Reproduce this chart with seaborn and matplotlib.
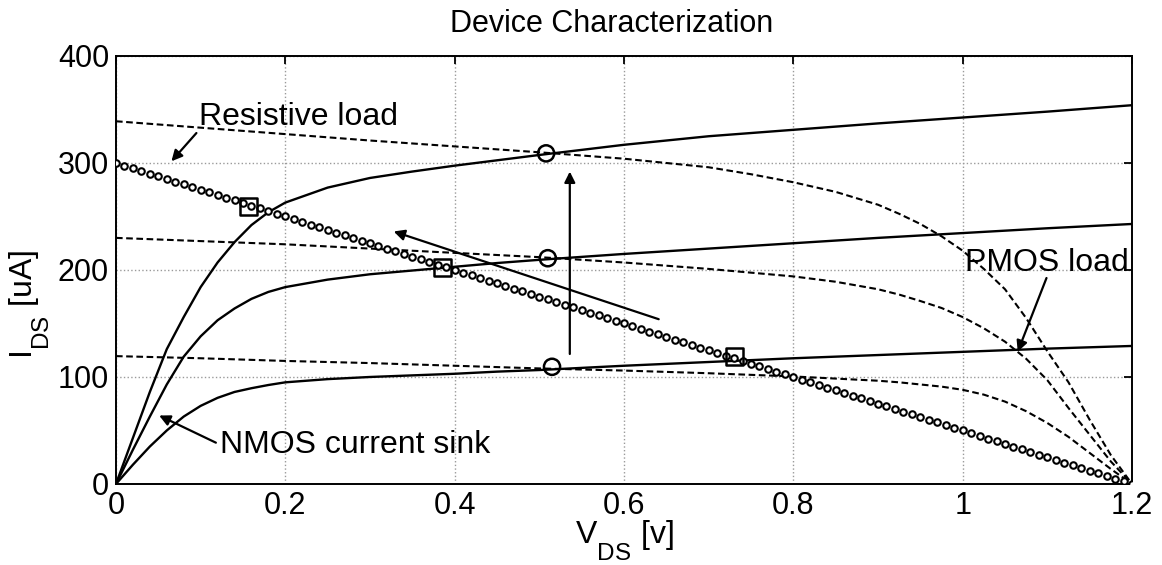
import numpy as np
import matplotlib
matplotlib.use("Agg")
import matplotlib.pyplot as plt
import matplotlib._mathtext as _mt
import seaborn as sns

# ---------------- data ----------------
# NMOS current-sink curves (solid)
vds_nmos = [0.0, 0.02, 0.04, 0.06, 0.08, 0.10, 0.12, 0.14, 0.16, 0.18, 0.20,
            0.25, 0.30, 0.35, 0.40, 0.45, 0.50, 0.60, 0.70, 0.80, 0.90, 1.00, 1.10, 1.20]
ids_nmos_high = [0, 43, 86, 126, 156, 184, 207, 226, 242, 254, 263,
                 277, 286, 292, 297.5, 302.5, 307.5, 317, 325, 331, 337, 342.5, 348, 354]
ids_nmos_mid = [0, 32, 63, 93, 119, 138, 153, 164, 173, 179.5, 184,
                191, 196, 199.5, 203, 206.5, 209.5, 215, 220, 225, 230, 234.5, 239, 243]
ids_nmos_low = [0, 18, 35, 50, 63, 73, 80.5, 86, 89.5, 92.5, 95,
                98, 100, 101.5, 103, 105, 106.5, 110.5, 114, 117.5, 120.5, 123.5, 126.5, 129]

# PMOS load curves (dashed)
vds_pmos = [0.0, 0.1, 0.2, 0.3, 0.4, 0.5, 0.6, 0.7, 0.75, 0.8, 0.85, 0.9, 0.925, 0.95,
            0.975, 1.0, 1.025, 1.05, 1.075, 1.1, 1.125, 1.15, 1.175, 1.2]
ids_pmos_high = [339, 333, 327, 321, 315.5, 310, 304, 296, 289.5, 282, 273, 261, 252.5, 243,
                 231.5, 218, 201, 182, 155, 124, 95, 60, 27, 0]
ids_pmos_mid = [230, 227, 224, 220, 216, 212, 207, 201, 197.5, 194, 189, 182, 177, 171,
                164.5, 156, 145.5, 133, 117, 97, 71, 46, 21, 0]
ids_pmos_low = [119.5, 117.5, 115, 113, 110.5, 108, 106, 103.5, 102, 100.5, 98.5, 96.5, 95, 93,
                91, 88, 83.5, 77, 68, 57, 44, 29, 14, 0]

# Resistive load line (marker chain)
vds_res = [0.00, 0.01, 0.02, 0.03, 0.04, 0.05, 0.06, 0.07, 0.08, 0.09,
           0.10, 0.11, 0.12, 0.13, 0.14, 0.15, 0.16, 0.17, 0.18, 0.19,
           0.20, 0.21, 0.22, 0.23, 0.24, 0.25, 0.26, 0.27, 0.28, 0.29,
           0.30, 0.31, 0.32, 0.33, 0.34, 0.35, 0.36, 0.37, 0.38, 0.39,
           0.40, 0.41, 0.42, 0.43, 0.44, 0.45, 0.46, 0.47, 0.48, 0.49,
           0.50, 0.51, 0.52, 0.53, 0.54, 0.55, 0.56, 0.57, 0.58, 0.59,
           0.60, 0.61, 0.62, 0.63, 0.64, 0.65, 0.66, 0.67, 0.68, 0.69,
           0.70, 0.71, 0.72, 0.73, 0.74, 0.75, 0.76, 0.77, 0.78, 0.79,
           0.80, 0.81, 0.82, 0.83, 0.84, 0.85, 0.86, 0.87, 0.88, 0.89,
           0.90, 0.91, 0.92, 0.93, 0.94, 0.95, 0.96, 0.97, 0.98, 0.99,
           1.00, 1.01, 1.02, 1.03, 1.04, 1.05, 1.06, 1.07, 1.08, 1.09,
           1.10, 1.11, 1.12, 1.13, 1.14, 1.15, 1.16, 1.17, 1.18, 1.19,
           1.20]
ids_res = [300, 297.5, 295, 292.5, 290, 287.5, 285, 282.5, 280, 277.5,
           275, 272.5, 270, 267.5, 265, 262.5, 260, 257.5, 255, 252.5,
           250, 247.5, 245, 242.5, 240, 237.5, 235, 232.5, 230, 227.5,
           225, 222.5, 220, 217.5, 215, 212.5, 210, 207.5, 205, 202.5,
           200, 197.5, 195, 192.5, 190, 187.5, 185, 182.5, 180, 177.5,
           175, 172.5, 170, 167.5, 165, 162.5, 160, 157.5, 155, 152.5,
           150, 147.5, 145, 142.5, 140, 137.5, 135, 132.5, 130, 127.5,
           125, 122.5, 120, 117.5, 115, 112.5, 110, 107.5, 105, 102.5,
           100, 97.5, 95, 92.5, 90, 87.5, 85, 82.5, 80, 77.5,
           75, 72.5, 70, 67.5, 65, 62.5, 60, 57.5, 55, 52.5,
           50, 47.5, 45, 42.5, 40, 37.5, 35, 32.5, 30, 27.5,
           25, 22.5, 20, 17.5, 15, 12.5, 10, 7.5, 5, 2.5,
           0]

# operating points
op_circle_x = [0.508, 0.510, 0.515]
op_circle_y = [309, 211, 109.5]
op_square_x = [0.157, 0.386, 0.731]
op_square_y = [259, 202, 119]

x_ticks = [0, 0.2, 0.4, 0.6, 0.8, 1.0, 1.2]
x_tick_labels = ["0", "0.2", "0.4", "0.6", "0.8", "1", "1.2"]
y_ticks = [0, 100, 200, 300, 400]
y_tick_labels = ["0", "100", "200", "300", "400"]

title_text = "Device Characterization"
xlabel_text = r"$\mathregular{V_{DS}}$ [v]"
ylabel_text = r"$\mathregular{I_{DS}}$ [uA]"

# ---------------- style ----------------
sns.set_style("white")
plt.rcParams["font.family"] = ["Liberation Sans", "DejaVu Sans"]
plt.rcParams["mathtext.fontset"] = "custom"
plt.rcParams["mathtext.rm"] = "Liberation Sans"
plt.rcParams["mathtext.it"] = "Liberation Sans:italic"
plt.rcParams["mathtext.bf"] = "Liberation Sans:bold"
plt.rcParams["text.color"] = "black"
plt.rcParams["axes.labelcolor"] = "black"
# MATLAB-like lower, larger subscripts
_mt.FontConstantsBase.sub1 = 1.0
_mt.SHRINK_FACTOR = 0.76

fig = plt.figure(figsize=(11.62, 5.65), dpi=100)
ax = fig.add_axes([0.0998, 0.1434, 0.8744, 0.7575])

lw_solid = 1.7
dash = (0, (3.2, 1.7))

for ys in (ids_nmos_high, ids_nmos_mid, ids_nmos_low):
    sns.lineplot(x=vds_nmos, y=ys, ax=ax, color="black", lw=lw_solid,
                 estimator=None, sort=False, legend=False)
for ys in (ids_pmos_high, ids_pmos_mid, ids_pmos_low):
    sns.lineplot(x=vds_pmos, y=ys, ax=ax, color="black", lw=1.5,
                 linestyle=dash, estimator=None, sort=False, legend=False)

sns.scatterplot(x=vds_res, y=ids_res, ax=ax, marker="o", s=22,
                facecolor="white", edgecolor="black", linewidth=1.5,
                legend=False, zorder=4)
sns.scatterplot(x=op_circle_x, y=op_circle_y, ax=ax, marker="o", s=135,
                facecolor="none", edgecolor="black", linewidth=1.8,
                legend=False, zorder=5)
sns.scatterplot(x=op_square_x, y=op_square_y, ax=ax, marker="s", s=150,
                facecolor="none", edgecolor="black", linewidth=1.8,
                legend=False, zorder=5)

arrow_kw = dict(arrowstyle="-|>", color="black", lw=1.6,
                mutation_scale=16, shrinkA=0, shrinkB=0)
# trend arrows
ax.annotate("", xy=(0.536, 292), xytext=(0.536, 121.5), arrowprops=arrow_kw)
ax.annotate("", xy=(0.328, 236), xytext=(0.641, 154), arrowprops=arrow_kw)

# labelled annotations
fs_annot = 23
ax.text(0.0975, 335.5, "Resistive load", fontsize=fs_annot, va="baseline", ha="left")
ax.annotate("", xy=(0.0655, 301.6), xytext=(0.095, 328), arrowprops=arrow_kw)
ax.text(0.123, 28.7, "NMOS current sink", fontsize=fs_annot, va="baseline", ha="left")
ax.annotate("", xy=(0.051, 64), xytext=(0.118, 38.6), arrowprops=arrow_kw)
ax.text(1.003, 199.4, "PMOS load", fontsize=fs_annot, va="baseline", ha="left")
ax.annotate("", xy=(1.065, 123.6), xytext=(1.099, 192.5), arrowprops=arrow_kw)

# axes
ax.set_xlim(0, 1.2)
ax.set_ylim(0, 400)
ax.set_xticks(x_ticks)
ax.set_xticklabels(x_tick_labels)
ax.set_yticks(y_ticks)
ax.set_yticklabels(y_tick_labels)
ax.tick_params(direction="in", length=6, width=1.3, top=True, right=True,
               labelsize=22, pad=5, colors="black")
ax.grid(True, linestyle=":", color="#9a9a9a", linewidth=1.0)
for sp in ax.spines.values():
    sp.set_visible(True)
    sp.set_linewidth(1.4)
    sp.set_color("black")

ax.set_title(title_text, fontsize=22, pad=17, x=0.488)
ax.set_xlabel(xlabel_text, fontsize=23, labelpad=-2)
ax.set_ylabel(ylabel_text, fontsize=23)
ax.yaxis.set_label_coords(-0.064, 0.42)

fig.savefig("out.png", dpi=100)
